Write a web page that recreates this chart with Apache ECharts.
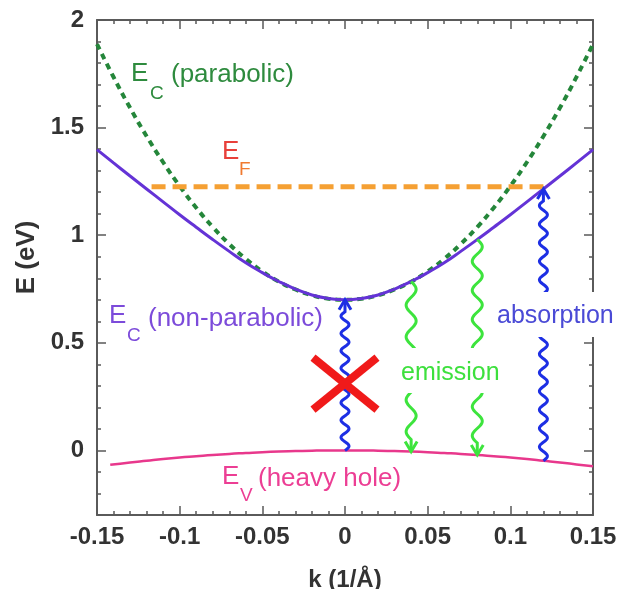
<!DOCTYPE html>
<html><head><meta charset="utf-8">
<script src="https://cdn.jsdelivr.net/npm/echarts@6/dist/echarts.min.js"></script>
<style>html,body{margin:0;padding:0;background:#fff}#c{width:617px;height:589px}</style>
</head><body><div id="c"></div>
<script>
// ---- data ----
const kGrid = [-0.15,-0.14,-0.13,-0.12,-0.11,-0.10,-0.09,-0.08,-0.07,-0.06,-0.05,-0.04,-0.03,-0.02,-0.01,0,
  0.01,0.02,0.03,0.04,0.05,0.06,0.07,0.08,0.09,0.10,0.11,0.12,0.13,0.14,0.15];
const ecParabolic = [1.888,1.735,1.592,1.460,1.339,1.228,1.128,1.038,0.959,0.890,0.832,0.784,0.748,0.721,0.705,0.700,
  0.705,0.721,0.748,0.784,0.832,0.890,0.959,1.038,1.128,1.228,1.339,1.460,1.592,1.735,1.888];
const ecNonParabolic = [1.398,1.336,1.275,1.215,1.155,1.095,1.037,0.980,0.925,0.872,0.826,0.785,0.750,0.722,0.706,0.700,
  0.706,0.722,0.750,0.785,0.826,0.872,0.925,0.980,1.037,1.095,1.155,1.215,1.275,1.336,1.398];
const kHole = [-0.142,-0.13,-0.12,-0.11,-0.10,-0.09,-0.08,-0.07,-0.06,-0.05,-0.04,-0.03,-0.02,-0.01,0,
  0.01,0.02,0.03,0.04,0.05,0.06,0.07,0.08,0.09,0.10,0.11,0.12,0.13,0.14,0.15];
const evHeavyHole = [-0.067,-0.056,-0.048,-0.040,-0.033,-0.027,-0.021,-0.016,-0.012,-0.008,-0.005,-0.003,-0.001,0,0,
  0,-0.001,-0.003,-0.005,-0.008,-0.012,-0.016,-0.021,-0.027,-0.033,-0.040,-0.048,-0.056,-0.065,-0.074];
const efK = [-0.117, 0.12];
const efEnergy = 1.225;
const arrowK = [0, 0.04, 0.08, 0.12];
const arrowFrom = [0, 0.785, 0.98, -0.048];
const arrowTo = [0.70, -0.005, -0.021, 1.215];
const arrowKind = ['absorption', 'emission', 'emission', 'absorption'];
const crossK = [0];
const crossE = [0.31];
const xTickValues = [-0.15, -0.1, -0.05, 0, 0.05, 0.1, 0.15];
const yTickValues = [0, 0.5, 1, 1.5, 2];

// ---- styles ----
const FONT = '"Liberation Sans", Arial, Helvetica, sans-serif';
const AX = '#5a5a5a';

function fmt(v) { return String(+(+v).toFixed(2)); }

function renderArrow(params, api) {
  const i = params.dataIndex;
  const k = api.value(0), e0 = api.value(1), e1 = api.value(2);
  const kind = arrowKind[i];
  const p0 = api.coord([k, e0]), p1 = api.coord([k, e1]);
  const color = kind === 'emission' ? '#3DE43D' : '#1D2FE4';
  const amp = kind === 'emission' ? 5 : 4;
  const period = kind === 'emission' ? 30 : 18;
  const dir = p1[1] > p0[1] ? 1 : -1;
  const L = Math.abs(p1[1] - p0[1]);
  const straight = 12;
  const waveLen = L - straight;
  const n = Math.max(1, Math.round(waveLen / period));
  const per = waveLen / n;
  const pts = [];
  for (let t = 0; t <= waveLen; t += 1) {
    pts.push([p0[0] + amp * Math.sin(2 * Math.PI * t / per), p0[1] + dir * t]);
  }
  pts.push([p0[0], p0[1] + dir * waveLen]);
  pts.push([p1[0], p1[1]]);
  const head = [[p1[0] - 6, p1[1] - dir * 10], [p1[0], p1[1]], [p1[0] + 6, p1[1] - dir * 10]];
  return { type: 'group', children: [
    { type: 'polyline', shape: { points: pts }, style: { stroke: color, lineWidth: 3, fill: null } },
    { type: 'polyline', shape: { points: head }, style: { stroke: color, lineWidth: 3, fill: null } }
  ]};
}
function renderCross(params, api) {
  const c = api.coord([api.value(0), api.value(1)]);
  const w = 32, h = 26;
  const st = { stroke: '#F01A1A', lineWidth: 8 };
  return { type: 'group', children: [
    { type: 'line', shape: { x1: c[0] - w, y1: c[1] - h, x2: c[0] + w, y2: c[1] + h }, style: st },
    { type: 'line', shape: { x1: c[0] - w, y1: c[1] + h, x2: c[0] + w, y2: c[1] - h }, style: st }
  ]};
}

function T(text, x, y, size, color) {
  return { type: 'text', x: x, y: y, z: 100, style: { text: text, fill: color,
    font: size + 'px ' + FONT, verticalAlign: 'middle', align: 'left' } };
}

const xBase = { type: 'value', min: -0.15, max: 0.15, interval: 0.05, splitLine: { show: false },
  axisLine: { show: true, onZero: false, lineStyle: { color: AX, width: 2 } },
  axisTick: { show: true, inside: true, length: 9, lineStyle: { color: AX, width: 1.5 } },
  minorTick: { show: true, splitNumber: 5, length: 4, lineStyle: { color: AX, width: 1.5 } } };
const yBase = { type: 'value', min: -0.3, max: 2, interval: 0.1, splitLine: { show: false },
  axisLine: { show: true, onZero: false, lineStyle: { color: AX, width: 2 } },
  axisTick: { show: true, inside: true, length: 4, lineStyle: { color: AX, width: 1.5 } } };
const yMajor = { type: 'value', min: -0.3, max: 2, splitLine: { show: false },
  axisLine: { show: false, onZero: false },
  axisLabel: { show: false },
  axisTick: { show: true, inside: true, length: 9, customValues: yTickValues, lineStyle: { color: AX, width: 1.5 } } };

const option = {
  animation: false,
  backgroundColor: '#fff',
  grid: { left: 97, right: 24, top: 20, bottom: 74, containLabel: false, outerBoundsMode: 'none' },
  xAxis: [
    Object.assign({}, xBase, { position: 'bottom',
      name: 'k (1/Å)', nameLocation: 'middle', nameGap: 53,
      nameTextStyle: { fontSize: 24, fontWeight: 'bold', color: '#333', fontFamily: FONT },
      axisLabel: { show: true, margin: 10, fontSize: 24, fontWeight: 'bold', color: '#333', fontFamily: FONT, formatter: fmt } }),
    Object.assign({}, xBase, { position: 'top', axisLabel: { show: false } })
  ],
  yAxis: [
    Object.assign({}, yBase, { position: 'left',
      name: 'E (eV)', nameLocation: 'middle', nameGap: 57,
      nameTextStyle: { fontSize: 26, fontWeight: 'bold', color: '#333', fontFamily: FONT, padding: [0, 0, 0, 20] },
      axisLabel: { show: true, margin: 13, fontSize: 24, fontWeight: 'bold', color: '#333', fontFamily: FONT,
        formatter: function (v) { const r = Math.round(v * 10) / 10;
          return yTickValues.some(t => Math.abs(t - r) < 1e-6) ? fmt(r) : ''; } } }),
    Object.assign({}, yMajor, { position: 'left' }),
    Object.assign({}, yBase, { position: 'right', axisLabel: { show: false } }),
    Object.assign({}, yMajor, { position: 'right' })
  ],
  series: [
    { type: 'line', name: 'EC parabolic', data: kGrid.map((k, i) => [k, ecParabolic[i]]),
      smooth: true, showSymbol: false, z: 2,
      lineStyle: { color: '#24863A', width: 4, type: [6, 5] } },
    { type: 'line', name: 'EC non-parabolic', data: kGrid.map((k, i) => [k, ecNonParabolic[i]]),
      smooth: true, showSymbol: false, z: 3,
      lineStyle: { color: '#6433D6', width: 3 } },
    { type: 'line', name: 'EF', data: efK.map(k => [k, efEnergy]), showSymbol: false, z: 4,
      lineStyle: { color: '#F5A033', width: 5, type: [14, 7] } },
    { type: 'line', name: 'EV heavy hole', data: kHole.map((k, i) => [k, evHeavyHole[i]]),
      smooth: true, showSymbol: false, z: 3,
      lineStyle: { color: '#E8388C', width: 2.5 } },
    { type: 'custom', name: 'transitions', renderItem: renderArrow, z: 5, clip: false,
      data: arrowK.map((k, i) => [k, arrowFrom[i], arrowTo[i]]), encode: { x: 0, y: [1, 2] } },
    { type: 'custom', name: 'forbidden', renderItem: renderCross, z: 6, clip: false,
      data: crossK.map((k, i) => [k, crossE[i]]), encode: { x: 0, y: 1 } }
  ],
  graphic: [
    T('E', 131, 74, 26, '#2E8B3E'), T('C', 150, 94, 19, '#2E8B3E'), T('(parabolic)', 171, 75, 26, '#2E8B3E'),
    T('E', 222, 152, 26, '#E8403A'), T('F', 239, 170, 19, '#F07A30'),
    T('E', 109, 316, 26, '#7C4BDA'), T('C', 127, 336, 19, '#7C4BDA'), T('(non-parabolic)', 148, 319, 26, '#7C4BDA'),
    T('E', 222, 477, 26, '#EC3E94'), T('V', 240, 496, 19, '#EC3E94'), T('(heavy hole)', 258, 479, 26, '#EC3E94'),
    { type: 'rect', z: 99, shape: { x: 397, y: 348, width: 110, height: 45 }, style: { fill: '#fff' } },
    T('emission', 401, 373, 25, '#3DE03D'),
    { type: 'rect', z: 99, shape: { x: 489, y: 292, width: 128, height: 45 }, style: { fill: '#fff' } },
    T('absorption', 497, 316, 25, '#4A4AD6')
  ]
};
const chart = echarts.init(document.getElementById('c'), null, { renderer: 'canvas' });
chart.setOption(option);
</script></body></html>
